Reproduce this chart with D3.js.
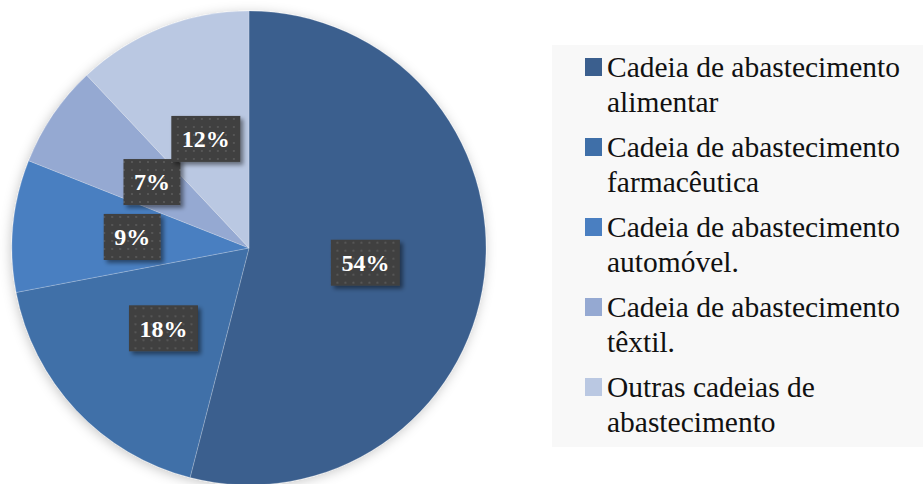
<!DOCTYPE html>
<html>
<head>
<meta charset="utf-8">
<script src="https://cdn.jsdelivr.net/npm/d3@7"></script>
<style>
  html, body { margin: 0; padding: 0; background: #ffffff; }
  svg { display: block; }
  .serif { font-family: "Liberation Serif", "DejaVu Serif", serif; }
</style>
</head>
<body>
<svg id="chart" width="923" height="484"></svg>
<script>
const categories = [
  ["Cadeia de abastecimento", "alimentar"],
  ["Cadeia de abastecimento", "farmacêutica"],
  ["Cadeia de abastecimento", "automóvel."],
  ["Cadeia de abastecimento", "têxtil."],
  ["Outras cadeias de", "abastecimento"]
];
const values = [54, 18, 9, 7, 12];
const colors = ["#3b5f8e", "#3f6fa8", "#4a7fc1", "#95a9d2", "#bac8e2"];

const svg = d3.select("#chart");
const defs = svg.append("defs");

const pieShadow = defs.append("filter").attr("id", "pieShadow")
  .attr("x", "-10%").attr("y", "-10%").attr("width", "120%").attr("height", "120%");
pieShadow.append("feDropShadow").attr("dx", -1).attr("dy", 2)
  .attr("stdDeviation", 6).attr("flood-color", "#000").attr("flood-opacity", 0.22);

const boxShadow = defs.append("filter").attr("id", "boxShadow")
  .attr("x", "-30%").attr("y", "-30%").attr("width", "160%").attr("height", "160%");
boxShadow.append("feDropShadow").attr("dx", 3).attr("dy", 3)
  .attr("stdDeviation", 2).attr("flood-color", "#000").attr("flood-opacity", 0.45);

const dots = defs.append("pattern").attr("id", "dots")
  .attr("patternUnits", "userSpaceOnUse").attr("width", 8).attr("height", 8);
dots.append("rect").attr("width", 8).attr("height", 8).attr("fill", "#3f3f3f");
dots.append("rect").attr("x", 3).attr("y", 3).attr("width", 2).attr("height", 2).attr("fill", "#575757");

const cx = 249, cy = 248, R = 237;
const pie = d3.pie().sort(null).value(d => d);
const arc = d3.arc().innerRadius(0).outerRadius(R);
const labelArc = d3.arc().innerRadius(0).outerRadius(R * 0.99);

const g = svg.append("g").attr("transform", `translate(${cx},${cy})`);
const arcs = pie(values);

g.append("g").attr("filter", "url(#pieShadow)")
  .selectAll("path").data(arcs).join("path")
  .attr("d", arc)
  .attr("fill", (d, i) => colors[i])
  .attr("stroke", "rgba(255,255,255,0.35)")
  .attr("stroke-width", 0.6);

const labels = g.selectAll("g.lbl").data(arcs).join("g")
  .attr("class", "lbl")
  .attr("transform", d => `translate(${labelArc.centroid(d)})`);

labels.each(function(d) {
  const sel = d3.select(this);
  const rect = sel.append("rect").attr("fill", "url(#dots)").attr("filter", "url(#boxShadow)");
  const t = sel.append("text")
    .attr("class", "serif")
    .attr("text-anchor", "middle")
    .attr("dy", "0.35em")
    .attr("font-weight", "bold")
    .attr("font-size", 24)
    .attr("fill", "#ffffff")
    .text(d.data + "%");
  let tw = t.node().getComputedTextLength();
  const target = (d.data >= 10 ? 48 : 36);
  if (Math.abs(tw - target) > 2) {
    t.attr("font-size", 24 * target / tw);
    tw = t.node().getComputedTextLength();
  }
  const w = tw + 21;
  const h = 46;
  rect.attr("x", -w / 2).attr("y", -h / 2).attr("width", w).attr("height", h);
});

// Legend
const legend = svg.append("g");
legend.append("rect")
  .attr("x", 552).attr("y", 45).attr("width", 371).attr("height", 402)
  .attr("fill", "#f8f8f8");

const entry = legend.selectAll("g.entry").data(categories).join("g")
  .attr("class", "entry")
  .attr("transform", (d, i) => `translate(0, ${77 + i * 80})`);

entry.append("rect")
  .attr("x", 585).attr("y", -19).attr("width", 17).attr("height", 18)
  .attr("fill", (d, i) => colors[i]);

const texts = entry.append("text")
  .attr("class", "serif")
  .attr("font-size", 29)
  .attr("fill", "#111111");
texts.selectAll("tspan").data(d => d).join("tspan")
  .attr("x", 607)
  .attr("y", (d, j) => j * 35)
  .text(d => d);

const probe = texts.filter((d, i) => i === 0).select("tspan").node();
const pw = probe.getComputedTextLength();
const fs = 29 * 293 / pw;
texts.attr("font-size", fs);
</script>
</body>
</html>
